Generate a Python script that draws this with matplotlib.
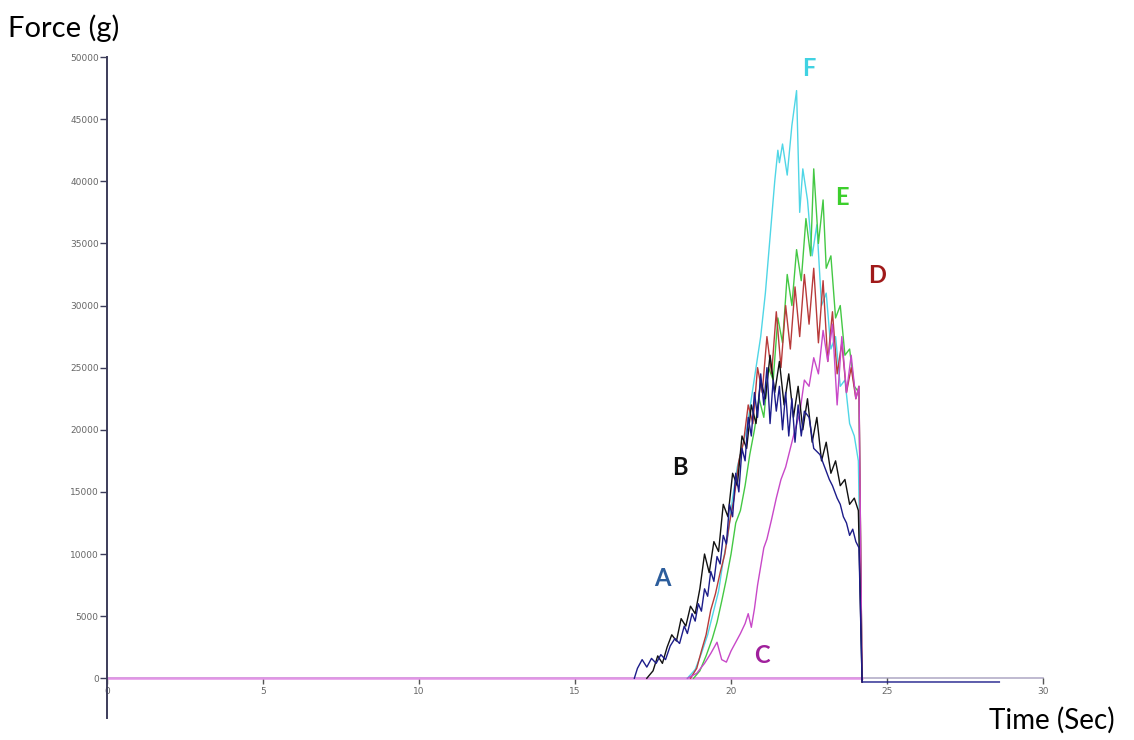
import matplotlib
matplotlib.use('Agg')
import matplotlib.pyplot as plt
import numpy as np

# force (g) vs time (sec)
t_a = [16.9, 17.0, 17.15, 17.3, 17.45, 17.6, 17.75, 17.9, 18.05, 18.2, 18.35, 18.5, 18.6, 18.75,
       18.85, 18.95, 19.05, 19.15, 19.25, 19.35, 19.45, 19.55, 19.65, 19.75, 19.85, 19.95, 20.05,
       20.15, 20.25, 20.35, 20.45, 20.55, 20.65, 20.75, 20.85, 20.95, 21.05, 21.15, 21.25, 21.35,
       21.45, 21.55, 21.65, 21.75, 21.85, 21.95, 22.05, 22.15, 22.25, 22.35, 22.5, 22.65, 22.85,
       23.0, 23.15, 23.25, 23.4, 23.5, 23.6, 23.7, 23.8, 23.9, 24.0, 24.1, 24.2, 28.6]
f_a = [0, 800, 1500, 900, 1600, 1200, 1900, 1500, 2600, 3200, 2800, 4200, 3600, 5200,
       4600, 6000, 5400, 7200, 6600, 8600, 7800, 9800, 9200, 11500, 10800, 14000, 13000,
       16500, 15000, 18500, 17500, 21000, 19500, 23000, 21000, 24500, 22000, 25000, 20500, 24000,
       21500, 23500, 20000, 23000, 19500, 22500, 19000, 22000, 19500, 21500, 21000, 18500, 18000,
       17000, 16000, 15500, 14500, 14000, 13000, 12500, 11500, 12000, 11000, 10500, -300, -300]

t_b = [17.3, 17.5, 17.65, 17.8, 17.95, 18.1, 18.25, 18.4, 18.55, 18.7, 18.85, 19.0, 19.15, 19.3,
       19.45, 19.6, 19.75, 19.9, 20.05, 20.2, 20.35, 20.5, 20.65, 20.8, 20.95, 21.1, 21.25, 21.4,
       21.55, 21.7, 21.85, 22.0, 22.15, 22.3, 22.45, 22.6, 22.75, 22.9, 23.05, 23.2, 23.35, 23.5,
       23.65, 23.8, 23.95, 24.08, 24.2]
f_b = [0, 600, 1800, 1200, 2500, 3500, 3000, 4800, 4200, 5800, 5200, 7200, 10000, 8500,
       11000, 10200, 14000, 13000, 16500, 15500, 19500, 18500, 22000, 20500, 24000, 22500, 26000, 23000,
       25500, 22000, 24500, 21000, 23500, 20000, 22500, 19000, 21000, 17500, 19000, 16500, 17500, 15500,
       16000, 14000, 14500, 13500, -300]

t_c = [18.6, 18.9, 19.15, 19.35, 19.55, 19.7, 19.85, 20.0, 20.15, 20.3, 20.45, 20.55, 20.65,
       20.75, 20.85, 20.95, 21.05, 21.15, 21.3, 21.45, 21.6, 21.75, 21.9, 22.05, 22.2, 22.35, 22.5,
       22.65, 22.8, 22.95, 23.1, 23.25, 23.4, 23.55, 23.7, 23.85, 24.0, 24.1, 24.2]
f_c = [0, 400, 1200, 2000, 2900, 1500, 1300, 2200, 2900, 3600, 4400, 5200, 4100,
       5600, 7500, 9000, 10500, 11200, 12800, 14500, 16000, 17000, 18500, 20000, 21300, 24000, 23500,
       25800, 24500, 28000, 25500, 28500, 22000, 27500, 23000, 26000, 22500, 23500, -300]

t_d = [18.7, 18.9, 19.05, 19.2, 19.35, 19.5, 19.65, 19.8, 19.95, 20.1, 20.25, 20.4, 20.55,
       20.7, 20.85, 21.0, 21.15, 21.3, 21.45, 21.6, 21.75, 21.9, 22.05, 22.2, 22.35, 22.5, 22.65,
       22.8, 22.95, 23.1, 23.25, 23.4, 23.55, 23.7, 23.85, 24.0, 24.1, 24.2]
f_d = [0, 800, 2200, 3500, 5500, 6800, 8500, 10000, 12500, 14500, 17500, 19000, 22000,
       20500, 25000, 23000, 27500, 24500, 29500, 25000, 30000, 26500, 31500, 27500, 32500, 28500, 33000,
       27000, 32000, 25500, 29500, 24500, 27000, 23000, 25000, 22500, 23500, -300]

t_e = [18.8, 19.0, 19.2, 19.4, 19.55, 19.7, 19.85, 20.0, 20.15, 20.3, 20.45, 20.6, 20.75,
       20.9, 21.05, 21.2, 21.35, 21.5, 21.65, 21.8, 21.95, 22.1, 22.25, 22.4, 22.55, 22.65, 22.8,
       22.95, 23.05, 23.2, 23.35, 23.5, 23.65, 23.8, 23.95, 24.1, 24.2]
f_e = [0, 600, 1800, 3200, 4500, 6200, 8000, 10000, 12500, 13500, 15500, 18000, 20000,
       22500, 21000, 25000, 24000, 29000, 27000, 32500, 30000, 34500, 32000, 37000, 34000, 41000, 35000,
       38500, 33000, 34000, 29000, 30000, 26000, 26500, 23500, 23000, -300]

t_f = [18.6, 18.85, 19.05, 19.25, 19.45, 19.6, 19.75, 19.9, 20.05, 20.2, 20.35, 20.5, 20.65,
       20.8, 20.95, 21.1, 21.25, 21.4, 21.5, 21.55, 21.65, 21.8, 21.95, 22.1, 22.2, 22.3, 22.45,
       22.6, 22.75, 22.9, 23.05, 23.2, 23.35, 23.5, 23.65, 23.8, 23.95, 24.08, 24.2]
f_f = [0, 700, 2000, 3500, 5500, 7000, 9500, 11500, 14500, 17000, 18500, 20000, 22500,
       25000, 27500, 31000, 35500, 40000, 42500, 41500, 43000, 40500, 44500, 47300, 37500, 41000, 38500,
       34000, 36500, 30000, 31000, 26500, 27500, 23500, 24000, 20500, 19500, 17500, -300]

curves = [('F', t_f, f_f, '#4fd6e6'),
          ('E', t_e, f_e, '#44c844'),
          ('D', t_d, f_d, '#b83a3a'),
          ('C', t_c, f_c, '#c848c8'),
          ('B', t_b, f_b, '#111111'),
          ('A', t_a, f_a, '#1c1c8a')]

# where the letters sit (data units) and their colours
label_names = ['A', 'B', 'C', 'D', 'E', 'F']
label_x = [17.8, 18.37, 21.0, 24.68, 23.56, 22.5]
label_y = [8050, 17000, 1850, 32440, 38720, 49100]
label_colors = ['#2c5d9c', '#111111', '#a0209c', '#a01a1a', '#3ccf2c', '#40d2e2']

x_ticks = [0, 5, 10, 15, 20, 25, 30]
y_ticks = [0, 5000, 10000, 15000, 20000, 25000, 30000, 35000, 40000, 45000, 50000]

fig = plt.figure(figsize=(11.34, 7.40), dpi=100)
ax = fig.add_axes([0.0944, 0.0297, 0.8254, 0.8932])
ax.set_xlim(0, 30)
ax.set_ylim(-3200, 50000)

# pink baseline under the traces (grey axis carries on to 30)
ax.plot([0, 24.2], [0, 0], color='#e294e6', lw=1.8, zorder=2)

for name, t, f, c in curves:
    ax.plot(t, f, color=c, lw=1.0, zorder=3)

for n, x, y, c in zip(label_names, label_x, label_y, label_colors):
    ax.text(x, y, n, color=c, fontsize=17, fontfamily='Lato', fontweight='bold',
            ha='center', va='center')

for s in ['top', 'right']:
    ax.spines[s].set_visible(False)
ax.spines['bottom'].set_position(('data', 0))
ax.spines['bottom'].set_color('#b4aec8')
ax.spines['bottom'].set_linewidth(1.2)
ax.spines['bottom'].set_zorder(1)
ax.spines['left'].set_color('#3c3c5a')
ax.spines['left'].set_linewidth(1.4)

ax.set_xticks(x_ticks)
ax.set_yticks(y_ticks)
ax.set_xticklabels([str(v) for v in x_ticks])
ax.set_yticklabels([str(v) for v in y_ticks])
ax.tick_params(axis='y', length=5, width=1, color='#3c3c5a', labelsize=6.5,
               labelcolor='#666666', pad=1)
ax.tick_params(axis='x', length=4, width=1, color='#555555', labelsize=6.5,
               labelcolor='#666666', pad=2)

fig.text(0.007, 0.962, 'Force (g)', fontsize=21, fontfamily='Lato', va='center', ha='left')
fig.text(0.983, 0.027, 'Time (Sec)', fontsize=20, fontfamily='Lato', va='center', ha='right')

fig.savefig('out.png', dpi=100)
